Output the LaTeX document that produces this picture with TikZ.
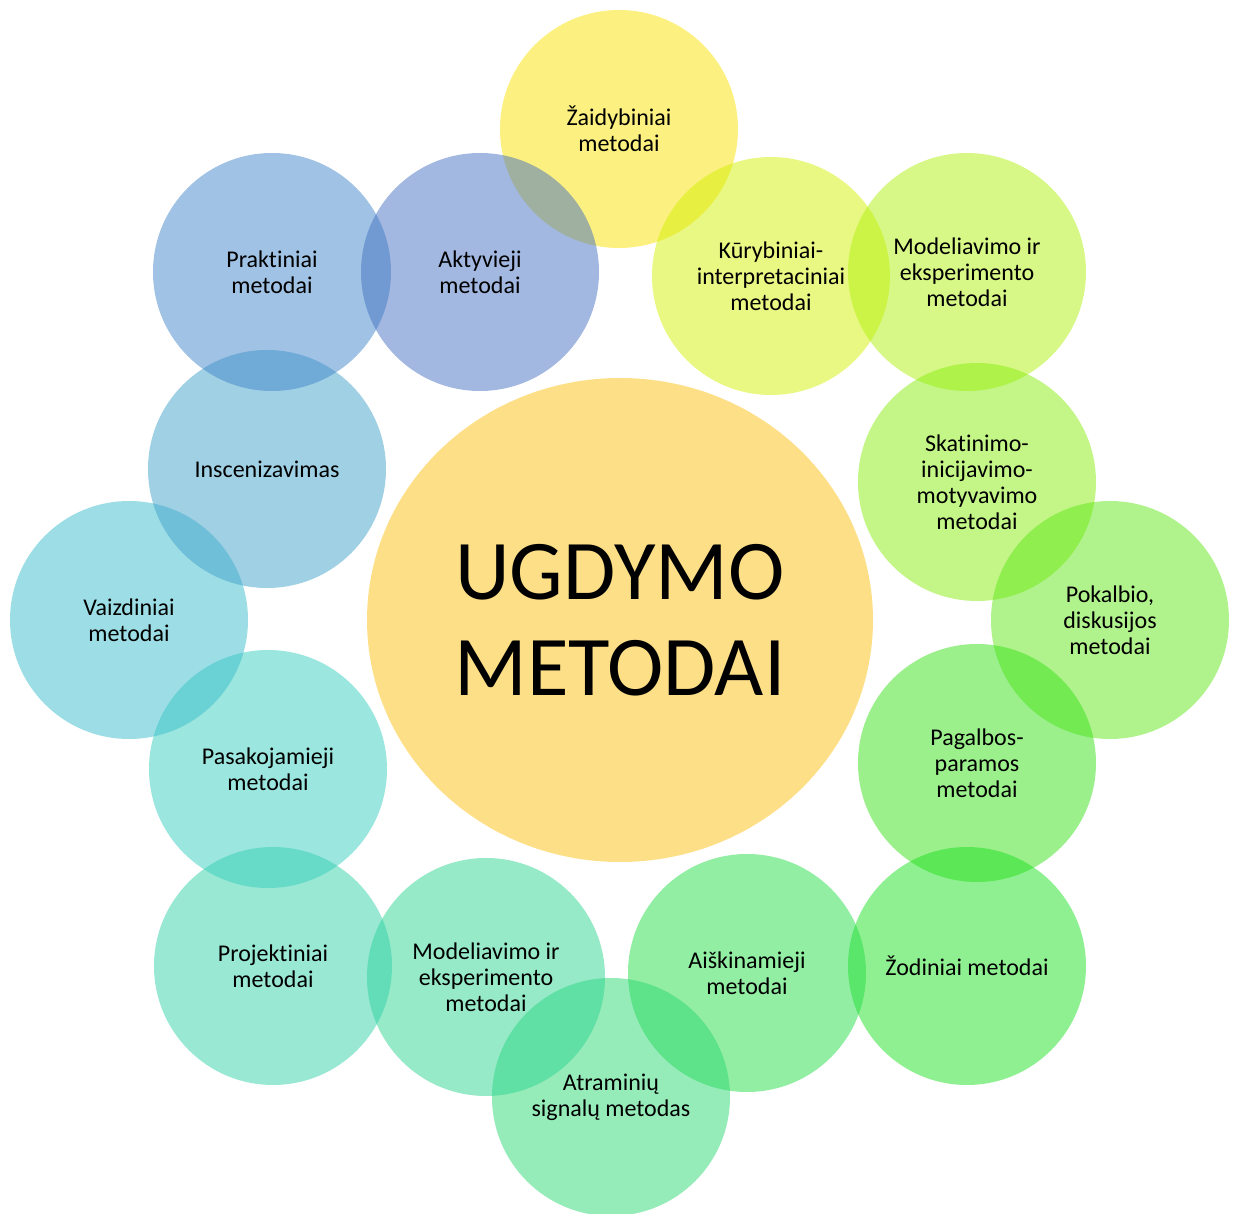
\documentclass[tikz,border=0pt]{standalone}
\usepackage{fontspec}
\setmainfont{Carlito}[Ligatures=NoCommon]
\usetikzlibrary{shapes.geometric}
\definecolor{cHub}{RGB}{251,191,17}
\definecolor{cZaid}{RGB}{249,225,1}
\definecolor{cKur}{RGB}{211,241,5}
\definecolor{cModA}{RGB}{175,241,15}
\definecolor{cSkat}{RGB}{135,237,15}
\definecolor{cPok}{RGB}{97,231,25}
\definecolor{cPag}{RGB}{55,225,25}
\definecolor{cZod}{RGB}{31,225,35}
\definecolor{cAisk}{RGB}{37,221,71}
\definecolor{cAtr}{RGB}{45,217,115}
\definecolor{cModB}{RGB}{45,213,145}
\definecolor{cProj}{RGB}{49,209,169}
\definecolor{cPas}{RGB}{55,205,189}
\definecolor{cVaiz}{RGB}{59,189,205}
\definecolor{cInsc}{RGB}{65,161,201}
\definecolor{cPrak}{RGB}{65,133,201}
\definecolor{cAkt}{RGB}{69,113,193}

\begin{document}
\begin{tikzpicture}[x=0.5pt, y=-0.5pt,
     bubble/.style = {circle, minimum size=119pt, inner sep=0pt,
                      fill opacity=0.5, text opacity=1, align=center,
                      font=\fontsize{12}{13}\selectfont},
        hub/.style = {ellipse, minimum width=253pt, minimum height=242pt,
                      inner sep=0pt, fill=cHub, fill opacity=0.5,
                      text opacity=1, align=center,
                      font=\fontsize{42.5}{48}\selectfont}
                        ]
\useasboundingbox (0,0) rectangle (1239,1214);
\node (hub)  [hub] at (620,620) {UGDYMO\\METODAI};
% clockwise from the top
\node (zaid) [bubble, fill=cZaid] at (619,129) {Žaidybiniai\\metodai};
\node (kur)  [bubble, fill=cKur]  at (771,276) {Kūrybiniai-\\interpretaciniai\\metodai};
\node (modA) [bubble, fill=cModA] at (967,272) {Modeliavimo ir\\eksperimento\\metodai};
\node (skat) [bubble, fill=cSkat] at (977,482) {Skatinimo-\\inicijavimo-\\motyvavimo\\metodai};
\node (pok)  [bubble, fill=cPok]  at (1110,620) {Pokalbio,\\diskusijos\\metodai};
\node (pag)  [bubble, fill=cPag]  at (977,763) {Pagalbos-\\paramos\\metodai};
\node (zod)  [bubble, fill=cZod]  at (967,966) {Žodiniai metodai};
\node (aisk) [bubble, fill=cAisk] at (747,973) {Aiškinamieji\\metodai};
\node (atr)  [bubble, fill=cAtr]  at (611,1097) {Atraminių\\signalų metodas};
\node (modB) [bubble, fill=cModB] at (486,977) {Modeliavimo ir\\eksperimento\\metodai};
\node (proj) [bubble, fill=cProj] at (273,966) {Projektiniai\\metodai};
\node (pas)  [bubble, fill=cPas]  at (268,769) {Pasakojamieji\\metodai};
\node (vaiz) [bubble, fill=cVaiz] at (129,620) {Vaizdiniai\\metodai};
\node (insc) [bubble, fill=cInsc] at (267,469) {Inscenizavimas};
\node (prak) [bubble, fill=cPrak] at (272,272) {Praktiniai\\metodai};
\node (akt)  [bubble, fill=cAkt]  at (480,272) {Aktyvieji\\metodai};
\end{tikzpicture}
\end{document}
